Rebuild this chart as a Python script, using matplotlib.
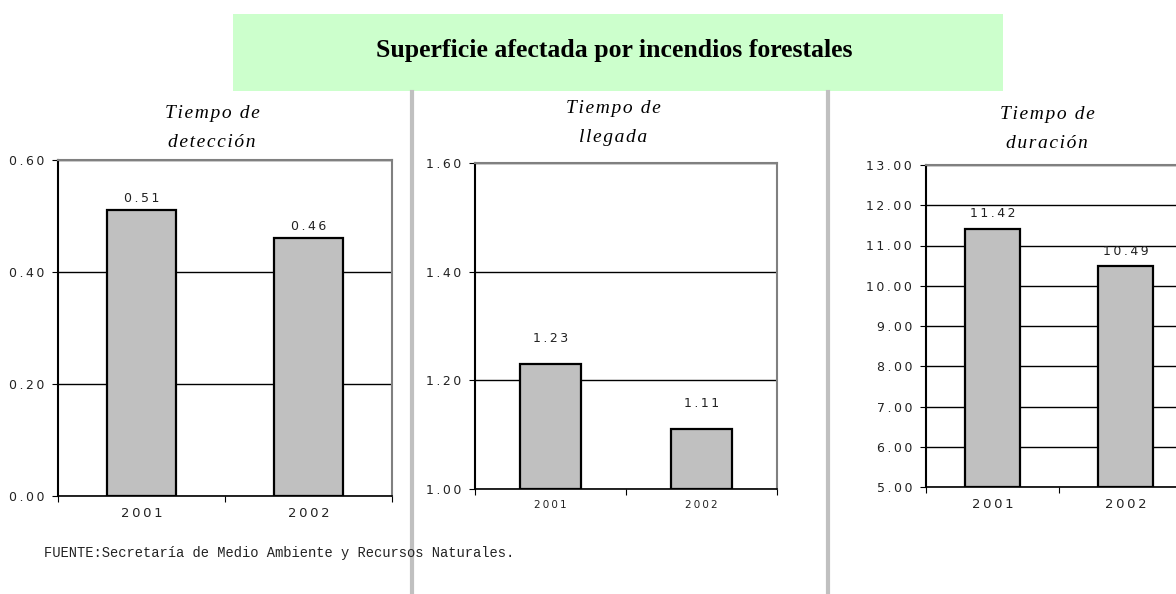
import matplotlib.pyplot as plt
from matplotlib.patches import Rectangle
from matplotlib.lines import Line2D

# data
years = ['2001', '2002']
deteccion = [0.51, 0.46]
llegada = [1.23, 1.11]
duracion = [11.42, 10.49]

titulo = 'Superficie afectada por incendios forestales'
subtitulos = ['Tiempo de\ndetección', 'Tiempo de\nllegada', 'Tiempo de\nduración']
fuente = 'FUENTE:Secretaría de Medio Ambiente y Recursos Naturales.'

W, H = 1176, 594
fig = plt.figure(figsize=(W / 100, H / 100), dpi=100)


def fx(px):
    return px / W


def fy(py):
    return 1 - py / H


def spaced(s, sep='\u2009'):
    # wide letter spacing like the original
    return sep.join(s)


# green title box
fig.patches.append(Rectangle((fx(233), fy(91)), fx(1003) - fx(233), fy(14) - fy(91),
                             transform=fig.transFigure, facecolor='#ccffcc',
                             edgecolor='none', zorder=0))
fig.text(fx(614), fy(51), titulo, ha='center', va='center', fontsize=18.5,
         fontweight='bold', family='Liberation Serif')

# gray dividers
for xd in (412, 828):
    fig.add_artist(Line2D([fx(xd), fx(xd)], [fy(92), 0], transform=fig.transFigure,
                          color='#c0c0c0', lw=3))

panels = [
    # values, left, right, top, bottom, ylim, ticks, label offset, x label size
    (deteccion, 58, 392, 160, 496, (0, 0.6), [0, 0.2, 0.4, 0.6], 4, 9.5),
    (llegada, 475, 777, 163, 489, (1.0, 1.6), [1.0, 1.2, 1.4, 1.6], 14, 7.5),
    (duracion, 926, 1192, 165, 487, (5, 13), list(range(5, 14)), 6, 9.5),
]

for vals, l, r, t, b, ylim, ticks, off, xfs in panels:
    ax = fig.add_axes([fx(l), fy(b), fx(r) - fx(l), fy(t) - fy(b)])
    ax.set_xlim(-0.5, 1.5)
    ax.set_ylim(*ylim)
    ax.set_yticks(ticks)
    ax.set_yticklabels([spaced('{:.2f}'.format(v)) for v in ticks], fontsize=9,
                       color='#222222')
    ax.yaxis.grid(True, color='black', lw=1)
    ax.set_axisbelow(True)
    ax.bar(range(len(years)), [v - ylim[0] for v in vals], bottom=ylim[0],
           width=0.41, color='#c0c0c0', edgecolor='black', lw=1.6, zorder=3)
    for i, v in enumerate(vals):
        ax.annotate(spaced('{:.2f}'.format(v)), (i, v), xytext=(0, off),
                    textcoords='offset points', ha='center', va='bottom',
                    fontsize=9, color='#222222', zorder=4)
    # category boundary ticks, labels in the middle
    ax.set_xticks([-0.5, 0.5, 1.5])
    ax.set_xticklabels([])
    ax.set_xticks(range(len(years)), minor=True)
    ax.set_xticklabels([spaced(y) for y in years], minor=True, fontsize=xfs,
                       color='#222222')
    ax.tick_params(axis='x', which='minor', length=0, pad=8)
    ax.tick_params(axis='x', which='major', length=4, direction='out', color='black')
    ax.tick_params(axis='y', length=4, direction='out', color='black', pad=6)
    for s in ('top', 'right'):
        ax.spines[s].set_color('#808080')
        ax.spines[s].set_linewidth(1.5)
    ax.spines['left'].set_color('black')
    ax.spines['left'].set_linewidth(1.5)
    ax.spines['bottom'].set_color('black')
    ax.spines['bottom'].set_linewidth(1.2)

for st, tcx, tcy in zip(subtitulos, (212, 613, 1047), (128, 123, 129)):
    fig.text(fx(tcx), fy(tcy),
             '\n'.join(spaced(line, '\u200a') for line in st.split('\n')),
             ha='center', va='center', fontsize=14, style='italic',
             family='Liberation Serif', linespacing=1.85)

fig.text(fx(44), fy(553), fuente, ha='left', va='center', fontsize=9.9,
         family='Liberation Mono', color='#222222')

fig.savefig('out.png', dpi=100)
